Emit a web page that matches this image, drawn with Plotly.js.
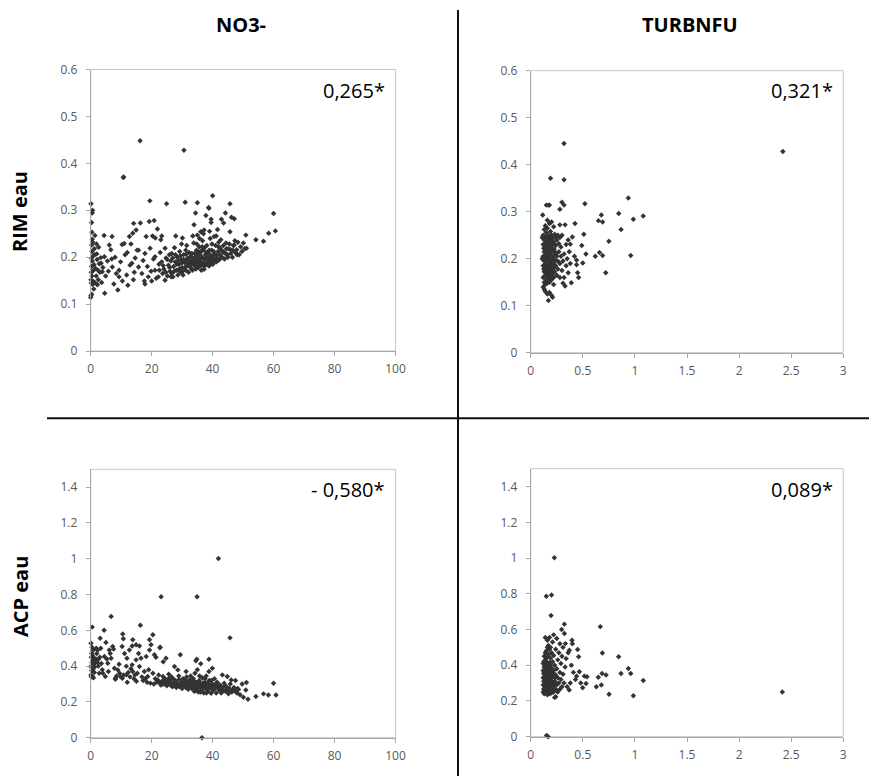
<!DOCTYPE html>
<html>
<head>
<meta charset="utf-8">
<script src="https://cdn.plot.ly/plotly-3.0.1.min.js"></script>
<style>
html,body{margin:0;padding:0;background:#fff;}
#chart{width:869px;height:776px;}
</style>
</head>
<body>
<div id="chart"></div>
<script>
// ---------- DATA ----------
const colTitles = ["NO3-", "TURBNFU"];
const rowTitles = ["RIM eau", "ACP eau"];
const corrLabels = ["0,265*", "0,321*", "- 0,580*", "0,089*"];

const no3Ticks = [0, 20, 40, 60, 80, 100];
const turbTicks = [0, 0.5, 1, 1.5, 2, 2.5, 3];
const rimTicks = [0, 0.1, 0.2, 0.3, 0.4, 0.5, 0.6];
const acpTicks = [0, 0.2, 0.4, 0.6, 0.8, 1, 1.2, 1.4];

// [NO3-, RIM eau]
const rimNo3 = [
[0,0.114],[0.1,0.118],[0.3,0.121],[0.2,0.145],[0.6,0.142],[0.1,0.152],[0.9,0.148],[0.4,0.160],[0.2,0.168],[0.8,0.171],
[0.3,0.180],[1.1,0.184],[0.5,0.192],[0.2,0.198],[0.9,0.203],[0.4,0.212],[1.2,0.218],[0.3,0.226],[0.7,0.232],[0.5,0.238],
[0.4,0.253],[0.3,0.274],[0.5,0.294],[0.1,0.314],[0.6,0.300],
[1.5,0.145],[1.8,0.160],[2.2,0.141],[2.5,0.152],[1.6,0.176],[2.8,0.186],[2.0,0.207],[3.0,0.168],[3.3,0.199],[2.6,0.221],
[1.4,0.246],[3.6,0.146],[1.0,0.132],[2.1,0.195],[1.9,0.228],[3.8,0.169],[3.4,0.187],[4.5,0.201],[4.6,0.123],[4.4,0.246],
[4.0,0.178],[4.9,0.160],[2.4,0.172],[1.3,0.205],
[5.5,0.192],[6.1,0.226],[6.6,0.216],[7.0,0.244],[7.1,0.179],[7.6,0.143],[8.0,0.200],[8.4,0.165],[8.9,0.130],[9.3,0.172],
[9.3,0.158],[9.8,0.190],[10.3,0.227],[10.4,0.149],[10.7,0.370],[10.8,0.371],[11.0,0.229],[11.3,0.205],[11.8,0.162],[12.2,0.140],
[12.7,0.244],[12.9,0.183],[13.5,0.187],[13.8,0.251],[14.1,0.272],[14.3,0.168],[14.6,0.198],[14.9,0.258],[15.2,0.215],[5.8,0.170],
[6.9,0.196],[12.0,0.210],[13.2,0.228],[14.0,0.152],
[15.7,0.179],[15.7,0.215],[16.2,0.448],[16.3,0.273],[16.8,0.165],[17.2,0.193],[17.6,0.149],[17.8,0.143],[17.8,0.208],[18.2,0.244],
[18.6,0.180],[18.9,0.158],[19.2,0.276],[19.4,0.320],[19.5,0.219],[19.8,0.170],[20.0,0.149],[20.3,0.245],[20.6,0.196],[20.8,0.278],
[21.1,0.172],[21.1,0.201],[21.2,0.241],[21.5,0.155],[21.9,0.260],[22.2,0.158],[22.4,0.185],[22.8,0.210],[23.0,0.237],[23.3,0.190],
[23.3,0.245],[23.6,0.165],[24.0,0.175],[24.4,0.151],[24.4,0.219],[24.7,0.198],[24.9,0.314],[25.2,0.160],
[25.5,0.183],[25.8,0.205],[26.0,0.170],[26.3,0.192],[26.6,0.165],[26.6,0.208],[27.0,0.158],[27.2,0.180],[27.5,0.220],[27.7,0.190],
[27.9,0.245],[28.1,0.172],[28.4,0.200],[28.6,0.162],[28.8,0.172],[29.0,0.185],[29.2,0.212],[29.5,0.168],[29.7,0.195],[30.0,0.178],
[30.1,0.241],[30.3,0.162],[30.5,0.205],[30.6,0.428],[30.8,0.188],[31.0,0.194],[31.0,0.317],[31.2,0.172],[31.5,0.225],[31.7,0.182],
[31.9,0.198],
[32.1,0.168],[32.3,0.210],[32.5,0.190],[32.7,0.178],[32.9,0.202],[33.1,0.185],[33.2,0.208],[33.4,0.172],[33.6,0.195],[33.8,0.230],
[33.9,0.269],[34.0,0.182],[34.2,0.200],[34.4,0.294],[34.5,0.175],[34.7,0.215],[34.9,0.190],[35.0,0.316],[35.0,0.247],[35.1,0.205],
[35.3,0.178],[35.5,0.196],[35.6,0.222],[35.8,0.185],[36.0,0.210],[36.1,0.254],[36.1,0.190],[36.3,0.172],[36.5,0.200],[36.7,0.235],
[36.9,0.182],[37.0,0.215],[37.2,0.258],[37.2,0.174],[37.4,0.195],[37.6,0.205],[37.8,0.289],[37.9,0.185],[38.1,0.225],[38.3,0.187],
[38.5,0.210],[38.7,0.306],[38.8,0.181],[38.8,0.304],[39.0,0.198],[39.2,0.240],[39.4,0.192],[39.5,0.281],[39.5,0.274],[39.7,0.215],
[40.0,0.331],[40.1,0.185],[40.3,0.205],[40.5,0.244],[40.5,0.205],[40.8,0.195],[41.0,0.225],
[41.3,0.190],[41.6,0.259],[41.8,0.212],[42.1,0.194],[42.4,0.220],[42.7,0.237],[42.9,0.281],[43.1,0.200],[43.4,0.210],[43.6,0.273],
[43.9,0.196],[44.2,0.294],[44.4,0.230],[44.6,0.205],[44.9,0.205],[45.2,0.218],[45.7,0.254],[45.7,0.314],[45.9,0.216],[46.2,0.285],
[46.5,0.200],[46.8,0.225],[47.1,0.282],[47.1,0.226],[47.5,0.210],[47.9,0.216],[48.3,0.232],[48.7,0.205],[49.2,0.222],[49.6,0.212],
[50.1,0.230],[50.5,0.218],[50.9,0.247],[51.1,0.219],
[54.2,0.237],[56.7,0.234],[58.4,0.251],[60.0,0.293],[60.6,0.256],
[22.5,0.172],[23.8,0.182],[24.6,0.168],[25.1,0.195],[25.9,0.178],[26.4,0.158],[26.9,0.198],[27.4,0.170],[27.8,0.205],[28.3,0.185],
[28.7,0.193],[29.1,0.175],[29.4,0.203],[29.9,0.188],[30.2,0.170],[30.4,0.195],[30.9,0.178],[31.3,0.206],[31.6,0.188],[32.0,0.195],
[32.4,0.183],[32.6,0.200],[33.0,0.176],[33.3,0.192],[33.7,0.186],[34.1,0.208],[34.3,0.190],[34.6,0.198],[34.8,0.183],[35.2,0.212],
[35.4,0.188],[35.7,0.205],[35.9,0.195],[36.2,0.182],[36.4,0.215],[36.8,0.198],[37.1,0.188],[37.3,0.220],[37.5,0.182],[37.7,0.196],
[38.0,0.210],[38.2,0.200],[38.6,0.192],[38.9,0.215],[39.1,0.205],[39.3,0.185],[39.6,0.200],[39.8,0.228],[40.2,0.195],[40.4,0.212],
[40.7,0.190],[41.1,0.205],[41.5,0.198],[41.9,0.222],[42.3,0.205],[42.6,0.198],[43.0,0.215],[43.5,0.225],[44.0,0.210],[44.5,0.218],
[45.0,0.200],[45.5,0.228],[46.0,0.208],[46.7,0.215],[47.3,0.235],[48.0,0.205],[33.5,0.245],[35.7,0.240],[37.0,0.250],[39.0,0.255],
[41.2,0.245],[42.0,0.232],[34.8,0.228],[36.6,0.222],[31.2,0.215],[29.8,0.228]
];

// [TURBNFU, RIM eau]
const rimTurb = [
[0.12,0.160],[0.12,0.185],[0.12,0.205],[0.12,0.230],[0.12,0.250],[0.13,0.150],[0.13,0.172],[0.13,0.195],[0.13,0.215],[0.13,0.240],
[0.13,0.262],[0.14,0.145],[0.14,0.165],[0.14,0.180],[0.14,0.200],[0.14,0.222],[0.14,0.245],[0.14,0.270],[0.15,0.155],[0.15,0.175],
[0.15,0.190],[0.15,0.210],[0.15,0.232],[0.15,0.255],[0.16,0.148],[0.16,0.168],[0.16,0.185],[0.16,0.203],[0.16,0.220],[0.16,0.240],
[0.16,0.265],[0.16,0.282],[0.17,0.158],[0.17,0.178],[0.17,0.196],[0.17,0.214],[0.17,0.235],[0.17,0.250],[0.18,0.150],[0.18,0.170],
[0.18,0.188],[0.18,0.207],[0.18,0.226],[0.18,0.245],[0.18,0.275],[0.19,0.162],[0.19,0.182],[0.19,0.200],[0.19,0.218],[0.19,0.238],
[0.19,0.258],[0.20,0.155],[0.20,0.175],[0.20,0.193],[0.20,0.212],[0.20,0.230],[0.20,0.250],[0.20,0.278],
[0.21,0.168],[0.21,0.190],[0.21,0.222],[0.21,0.245],[0.22,0.160],[0.22,0.180],[0.22,0.205],[0.22,0.235],[0.22,0.268],[0.23,0.172],
[0.23,0.198],[0.23,0.215],[0.23,0.252],[0.24,0.185],[0.24,0.228],[0.24,0.245],[0.25,0.165],[0.25,0.205],[0.25,0.240],[0.26,0.178],
[0.26,0.195],[0.26,0.250],[0.27,0.215],[0.27,0.232],[0.28,0.160],[0.28,0.190],[0.28,0.245],[0.28,0.305],[0.29,0.205],[0.29,0.225],
[0.30,0.175],[0.30,0.250],[0.30,0.320],[0.31,0.195],[0.31,0.148],[0.32,0.445],[0.32,0.368],[0.32,0.314],[0.32,0.210],[0.32,0.160],
[0.33,0.272],[0.33,0.142],[0.34,0.185],[0.34,0.230],[0.35,0.200],[0.36,0.170],[0.36,0.240],[0.37,0.215],[0.38,0.231],[0.38,0.190],
[0.39,0.149],[0.40,0.246],[0.42,0.205],[0.425,0.275],[0.44,0.197],[0.44,0.187],[0.45,0.170],[0.46,0.160],[0.49,0.228],[0.50,0.191],
[0.51,0.252],[0.52,0.317],[0.53,0.210],[0.62,0.205],[0.65,0.281],[0.66,0.213],[0.678,0.293],[0.69,0.278],[0.69,0.207],[0.72,0.170],
[0.75,0.237],[0.845,0.296],[0.867,0.262],[0.937,0.329],[0.96,0.207],[0.985,0.284],[1.08,0.291],[2.42,0.428],
[0.14,0.130],[0.16,0.125],[0.17,0.111],[0.18,0.128],[0.20,0.122],[0.21,0.118],[0.22,0.145],[0.115,0.293],[0.15,0.314],[0.17,0.314],
[0.18,0.314],[0.19,0.371],[0.28,0.272],[0.11,0.245],[0.11,0.200],
[0.125,0.178],[0.125,0.222],[0.135,0.185],[0.135,0.205],[0.135,0.228],[0.145,0.190],[0.145,0.212],[0.145,0.235],[0.155,0.165],[0.155,0.200],
[0.155,0.245],[0.165,0.178],[0.165,0.212],[0.165,0.228],[0.175,0.168],[0.175,0.205],[0.175,0.242],[0.185,0.180],[0.185,0.198],[0.185,0.218],
[0.195,0.172],[0.195,0.228],[0.205,0.185],[0.205,0.240],[0.215,0.200],[0.215,0.232],[0.225,0.192],[0.225,0.220],[0.235,0.185],[0.245,0.210],
[0.12,0.140],[0.13,0.135]
];

// [NO3-, ACP eau]
const acpNo3 = [
[0,0.398],[0.1,0.351],[0.1,0.528],[0.2,0.340],[0.3,0.375],[0.4,0.420],[0.5,0.618],[0.2,0.450],[0.6,0.460],[0.8,0.435],
[0.9,0.490],[0.3,0.470],[1.0,0.410],[1.1,0.445],[0.7,0.380],[1.3,0.395],[1.5,0.425],[1.7,0.440],[1.2,0.365],[0.5,0.345],
[2.0,0.470],[2.3,0.490],[2.2,0.420],[2.5,0.400],[2.8,0.360],[3.1,0.556],[3.0,0.450],[0.4,0.505],[1.8,0.500],[2.6,0.440],[0.9,0.335],
[3.5,0.415],[3.8,0.380],[4.4,0.601],[4.5,0.454],[4.8,0.342],[5.0,0.532],[5.3,0.440],[5.6,0.416],[6.1,0.490],[6.4,0.470],
[6.7,0.444],[6.7,0.677],[7.2,0.510],[7.5,0.495],[7.8,0.388],[8.1,0.332],[8.1,0.326],[8.5,0.345],[8.9,0.379],[9.3,0.410],
[9.5,0.360],[9.8,0.340],[4.0,0.360],[5.8,0.370],[3.3,0.500],
[10.3,0.510],[10.4,0.332],[10.5,0.580],[10.7,0.553],[10.8,0.350],[11.1,0.470],[11.7,0.400],[11.7,0.351],[11.9,0.444],[12.3,0.365],
[12.7,0.490],[12.9,0.340],[13.2,0.385],[13.6,0.513],[13.6,0.407],[13.8,0.547],[13.8,0.370],[14.2,0.330],[14.5,0.350],[14.9,0.520],
[14.9,0.435],[15.3,0.360],[15.7,0.470],[16.0,0.513],[16.0,0.398],[16.3,0.629],[16.5,0.444],[16.8,0.340],[17.2,0.320],[17.6,0.370],
[17.9,0.330],[18.2,0.454],[18.5,0.310],[18.7,0.342],[19.0,0.380],[19.3,0.490],[19.3,0.547],[19.6,0.305],[19.8,0.519],[12.0,0.310],[15.0,0.315],
[20.4,0.575],[20.4,0.360],[20.7,0.300],[20.9,0.463],[21.2,0.330],[21.4,0.450],[21.7,0.310],[22.0,0.323],[22.3,0.350],[22.7,0.503],
[22.8,0.506],[23.0,0.295],[23.1,0.788],[23.4,0.315],[23.7,0.342],[23.8,0.425],[24.1,0.300],[24.4,0.330],[24.7,0.444],[25.0,0.290],
[25.3,0.310],[25.6,0.355],[25.9,0.323],[26.2,0.295],[26.5,0.340],[26.8,0.285],[27.1,0.305],[27.5,0.398],[27.8,0.320],[28.1,0.280],
[28.4,0.300],[28.6,0.379],[28.9,0.345],[29.2,0.285],[29.4,0.463],[29.7,0.310],[30.0,0.275],[30.3,0.330],
[30.6,0.295],[30.9,0.315],[31.2,0.280],[31.3,0.370],[31.5,0.340],[31.8,0.300],[32.0,0.270],[32.3,0.320],[32.5,0.290],[32.8,0.345],
[33.0,0.310],[33.2,0.275],[33.5,0.300],[33.7,0.330],[34.0,0.285],[34.2,0.360],[34.5,0.265],[34.5,0.430],[34.7,0.310],[34.8,0.439],
[34.9,0.788],[35.0,0.380],[35.1,0.295],[35.3,0.255],[35.6,0.320],[35.8,0.280],[36.1,0.413],[36.1,0.300],[36.3,0.262],[36.5,0],
[36.6,0.335],[36.9,0.290],[37.1,0.250],[37.4,0.310],[37.6,0.275],[37.9,0.345],[38.1,0.295],[38.4,0.260],[38.8,0.439],[38.8,0.370],
[38.9,0.320],[39.2,0.280],[39.5,0.248],[39.9,0.388],[40.0,0.300],[40.3,0.265],[40.6,0.330],[40.9,0.285],[41.2,0.250],[41.5,0.310],
[41.9,1.002],
[42.0,0.270],[42.4,0.295],[42.8,0.250],[43.2,0.351],[43.4,0.280],[43.8,0.305],[44.2,0.260],[44.6,0.285],[44.8,0.342],[45.2,0.245],
[45.7,0.558],[45.8,0.300],[46.1,0.323],[46.5,0.265],[47.0,0.280],[47.5,0.320],[48.0,0.250],[48.5,0.270],[49.0,0.240],[49.7,0.300],
[50.1,0.226],[50.9,0.267],[51.1,0.308],[51.6,0.215],[54.2,0.230],[56.7,0.245],[58.3,0.239],[60.0,0.304],[60.8,0.239],
[22.5,0.310],[23.6,0.300],[24.3,0.318],[25.2,0.300],[26.0,0.312],[26.7,0.298],[27.4,0.290],[28.0,0.310],[28.7,0.295],[29.5,0.300],
[30.1,0.290],[30.8,0.305],[31.4,0.295],[31.9,0.285],[32.4,0.305],[32.9,0.295],[33.3,0.285],[33.8,0.315],[34.3,0.300],[34.6,0.290],
[35.0,0.278],[35.4,0.308],[35.9,0.295],[36.2,0.285],[36.7,0.305],[37.0,0.278],[37.3,0.295],[37.8,0.288],[38.2,0.305],[38.6,0.275],
[39.0,0.298],[39.4,0.288],[39.8,0.270],[40.2,0.290],[40.7,0.278],[41.0,0.300],[41.7,0.285],[42.2,0.265],[42.6,0.280],[43.0,0.270],
[43.6,0.262],[44.0,0.290],[44.5,0.270],[45.0,0.260],[45.5,0.275],[46.3,0.255],[47.2,0.262],[48.2,0.275],[33.0,0.330],[35.7,0.345],
[37.5,0.330],[39.6,0.320],[31.0,0.325],[29.0,0.325],[27.0,0.330],[25.5,0.330],[36.0,0.255],[38.0,0.250],[34.0,0.260]
];

// [TURBNFU, ACP eau]
const acpTurb = [
[0.12,0.250],[0.12,0.290],[0.12,0.330],[0.12,0.370],[0.12,0.410],[0.13,0.240],[0.13,0.270],[0.13,0.310],[0.13,0.350],[0.13,0.390],
[0.13,0.450],[0.14,0.255],[0.14,0.285],[0.14,0.320],[0.14,0.360],[0.14,0.400],[0.14,0.430],[0.14,0.555],[0.15,0.245],[0.15,0.275],
[0.15,0.300],[0.15,0.340],[0.15,0.380],[0.15,0.420],[0.15,0.480],[0.15,0.786],[0.16,0.235],[0.16,0.265],[0.16,0.295],[0.16,0.330],
[0.16,0.365],[0.16,0.405],[0.16,0.445],[0.16,0.540],[0.17,0.250],[0.17,0.280],[0.17,0.315],[0.17,0.350],[0.17,0.390],[0.17,0.460],
[0.17,0.510],[0.18,0.240],[0.18,0.270],[0.18,0.305],[0.18,0.340],[0.18,0.375],[0.18,0.415],[0.18,0.555],[0.19,0.255],[0.19,0.290],
[0.19,0.325],[0.19,0.360],[0.19,0.400],[0.19,0.440],[0.19,0.500],[0.20,0.245],[0.20,0.280],[0.20,0.310],[0.20,0.350],[0.20,0.385],
[0.20,0.470],[0.20,0.793],[0.195,0.678],[0.21,0.260],[0.21,0.300],[0.21,0.335],[0.21,0.420],[0.21,0.530],[0.22,0.250],[0.22,0.285],
[0.22,0.370],[0.22,0.455],[0.22,0.570],
[0.23,0.220],[0.23,0.310],[0.23,0.400],[0.227,1.002],[0.24,0.224],[0.24,0.265],[0.24,0.345],[0.24,0.490],[0.25,0.290],[0.25,0.380],
[0.25,0.550],[0.26,0.250],[0.26,0.330],[0.26,0.430],[0.27,0.300],[0.27,0.470],[0.28,0.265],[0.28,0.360],[0.28,0.520],[0.29,0.320],
[0.29,0.410],[0.297,0.600],[0.30,0.280],[0.30,0.450],[0.31,0.350],[0.31,0.500],[0.32,0.300],[0.323,0.630],[0.323,0.578],[0.33,0.390],
[0.333,0.521],[0.34,0.437],[0.35,0.280],[0.36,0.470],[0.37,0.261],[0.371,0.484],[0.38,0.300],[0.39,0.400],[0.396,0.540],[0.40,0.520],
[0.41,0.360],[0.43,0.320],[0.44,0.339],[0.45,0.488],[0.46,0.447],[0.467,0.363],[0.48,0.300],[0.499,0.274],[0.515,0.339],[0.531,0.298],
[0.54,0.335],[0.63,0.280],[0.649,0.333],[0.668,0.616],[0.678,0.289],[0.685,0.354],[0.688,0.469],[0.723,0.345],[0.752,0.238],[0.844,0.447],
[0.867,0.354],[0.937,0.382],[0.96,0.354],[0.985,0.229],[1.08,0.315],[2.415,0.250],[0.153,0.007],[0.168,0.0],
[0.125,0.265],[0.125,0.310],[0.125,0.355],[0.135,0.290],[0.135,0.330],[0.135,0.370],[0.145,0.270],[0.145,0.305],[0.145,0.345],[0.145,0.380],
[0.155,0.260],[0.155,0.320],[0.155,0.360],[0.155,0.400],[0.165,0.280],[0.165,0.310],[0.165,0.345],[0.165,0.380],[0.175,0.265],[0.175,0.300],
[0.175,0.335],[0.175,0.410],[0.185,0.285],[0.185,0.320],[0.185,0.355],[0.195,0.270],[0.195,0.305],[0.195,0.340],[0.205,0.295],[0.205,0.330],
[0.215,0.280],[0.215,0.360],[0.225,0.300],[0.235,0.330],[0.245,0.300],[0.125,0.420],[0.14,0.470],[0.16,0.500],[0.18,0.490]
];

// ---------- LAYOUT ----------
const W = 869, H = 776;
const fx = p => p / W;           // pixel -> paper x
const fy = p => 1 - p / H;       // pixel -> paper y

const markerStyle = {symbol: 'diamond', size: 4.2, color: '#333333', line: {width: 0}};
const sets = [rimNo3, rimTurb, acpNo3, acpTurb];
const traces = sets.map((d, i) => ({
  type: 'scatter', mode: 'markers',
  x: d.map(p => p[0]), y: d.map(p => p[1]),
  xaxis: i === 0 ? 'x' : 'x' + (i + 1),
  yaxis: i === 0 ? 'y' : 'y' + (i + 1),
  marker: markerStyle, cliponaxis: false, hoverinfo: 'x+y', showlegend: false
}));

const tickFont = {family: 'Open Sans, sans-serif', size: 12, color: '#595959'};
function ax(domain, range, tickvals, anchor, isY) {
  return {
    domain: domain, range: range, tickvals: tickvals, ticktext: tickvals.map(String),
    anchor: anchor, ticks: 'outside', ticklen: 4, tickcolor: '#a6a6a6', tickwidth: 1,
    showline: true, linecolor: '#a6a6a6', linewidth: 1,
    showgrid: false, zeroline: false, fixedrange: true,
    tickfont: tickFont, ticklabelstandoff: isY ? 6 : 3
  };
}

const layout = {
  width: W, height: H,
  margin: {l: 0, r: 0, t: 0, b: 0},
  paper_bgcolor: '#ffffff', plot_bgcolor: '#ffffff',
  showlegend: false,
  xaxis:  ax([fx(90.7), fx(395.5)], [0, 100], no3Ticks, 'y', false),
  yaxis:  ax([fy(351), fy(69.5)], [0, 0.6], rimTicks, 'x', true),
  xaxis2: ax([fx(530.7), fx(843.3)], [0, 3], turbTicks, 'y2', false),
  yaxis2: ax([fy(352.7), fy(70.7)], [0, 0.6], rimTicks, 'x2', true),
  xaxis3: ax([fx(90.7), fx(395.5)], [0, 100], no3Ticks, 'y3', false),
  yaxis3: ax([fy(737.7), fy(469.3)], [0, 1.5], acpTicks, 'x3', true),
  xaxis4: ax([fx(530.7), fx(843.3)], [0, 3], turbTicks, 'y4', false),
  yaxis4: ax([fy(736.7), fy(468.7)], [0, 1.5], acpTicks, 'x4', true),
  shapes: [
    ...['', '2', '3', '4'].map(s => ({type: 'rect', xref: 'x' + s + ' domain', yref: 'y' + s + ' domain',
      x0: 0, x1: 1, y0: 0, y1: 1, line: {color: '#c8c8c8', width: 1}, layer: 'below'})),
    {type: 'line', xref: 'paper', yref: 'paper', x0: fx(458), x1: fx(458), y0: 0, y1: fy(10),
     line: {color: '#111111', width: 2}},
    {type: 'line', xref: 'paper', yref: 'paper', x0: fx(47), x1: 1, y0: fy(418.3), y1: fy(418.3),
     line: {color: '#111111', width: 2}}
  ],
  annotations: [
    {text: '<b>' + colTitles[0] + '</b>', x: fx(241), y: fy(25)},
    {text: '<b>' + colTitles[1] + '</b>', x: fx(690), y: fy(25)},
    {text: '<b>' + rowTitles[0] + '</b>', x: fx(20), y: fy(212), textangle: -90},
    {text: '<b>' + rowTitles[1] + '</b>', x: fx(20), y: fy(597), textangle: -90}
  ].map(a => Object.assign({xref: 'paper', yref: 'paper', showarrow: false, xanchor: 'center', yanchor: 'middle',
      font: {family: 'Open Sans, sans-serif', size: 20, color: '#000'}}, a)).concat([
    {text: corrLabels[0], x: fx(387), y: fy(90.5)},
    {text: corrLabels[1], x: fx(835), y: fy(90.5)},
    {text: corrLabels[2], x: fx(387), y: fy(489)},
    {text: corrLabels[3], x: fx(835), y: fy(489)}
  ].map(a => Object.assign({xref: 'paper', yref: 'paper', showarrow: false, xanchor: 'right', yanchor: 'middle',
      font: {family: 'Open Sans, sans-serif', size: 20, color: '#000'}}, a)))
};

Plotly.newPlot('chart', traces, layout, {displayModeBar: false, staticPlot: true});
</script>
</body>
</html>
